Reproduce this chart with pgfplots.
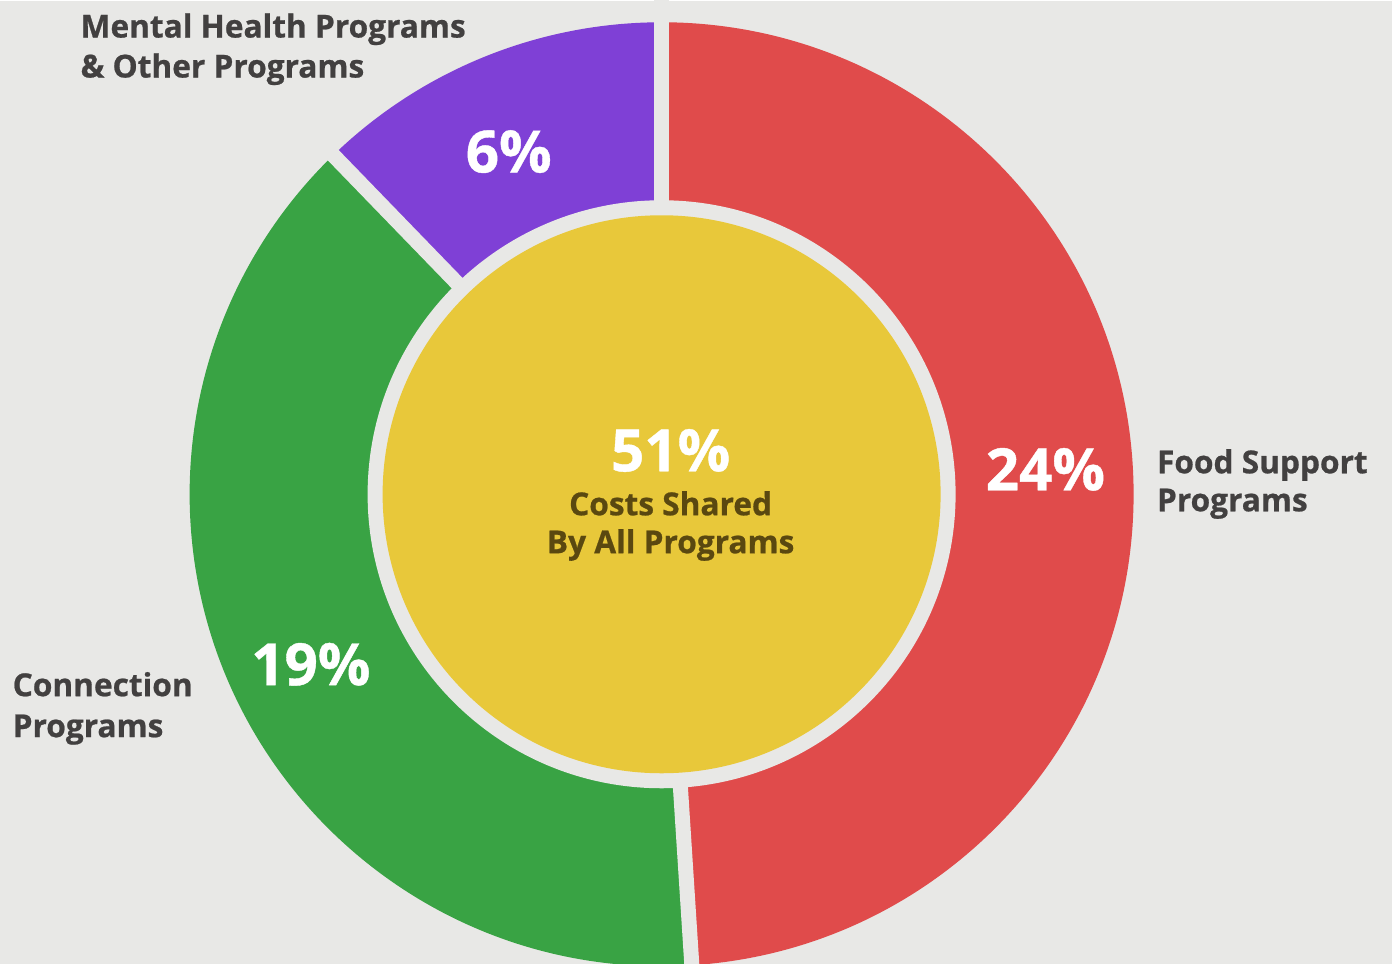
\documentclass[border=0pt]{standalone}
\usepackage{pgfplots}
\usepackage{pgfplotstable}
\usepackage{fontspec}
\pgfplotsset{compat=1.18}
\setmainfont{Open Sans}[BoldFeatures={FakeBold=0.7}]

\definecolor{paper}{HTML}{E8E8E6}
\definecolor{foodred}{HTML}{E04B4B}
\definecolor{conngreen}{HTML}{39A344}
\definecolor{mentpurple}{HTML}{7F40D6}
\definecolor{sharedyellow}{HTML}{E8C83A}
\definecolor{labelgray}{HTML}{424040}
\definecolor{olive}{HTML}{5A4810}

% share of total costs, in percent
\pgfplotstableread{
group      value
food       24
connection 19
mental     6
shared     51
}\costs

\pgfplotstablegetelem{0}{value}\of\costs \let\vFood\pgfplotsretval
\pgfplotstablegetelem{1}{value}\of\costs \let\vConn\pgfplotsretval
\pgfplotstablegetelem{2}{value}\of\costs \let\vMent\pgfplotsretval
\pgfplotstablegetelem{3}{value}\of\costs \let\vShared\pgfplotsretval

% outer ring holds the three program groups only
\pgfmathsetmacro{\ringsum}{\vFood+\vConn+\vMent}
\pgfmathsetmacro{\aFood}{90-360*\vFood/\ringsum}
\pgfmathsetmacro{\aConn}{\aFood-360*\vConn/\ringsum}
\pgfmathsetmacro{\aMent}{\aConn-360*\vMent/\ringsum}

\newcommand{\lbl}{\fontsize{9.0pt}{11pt}\selectfont\bfseries}
\newcommand{\pct}{\fontsize{16.6pt}{18pt}\selectfont\bfseries}

\begin{document}
\begin{tikzpicture}
\useasboundingbox (0,0) rectangle (13.93,9.64);
\clip (0,0) rectangle (13.93,9.64);
\begin{axis}[
    at={(0,0)}, anchor=south west,
    x=0.01cm, y=0.01cm,
    xmin=0, xmax=1393, ymin=0, ymax=964,
    hide axis,
    clip=true
]
\fill[paper] (axis cs:0,0) rectangle (axis cs:1393,964);

% ring wedges
\fill[foodred] (axis cs:662,470) -- ++(90:4.72cm)
    arc[start angle=90, end angle=\aFood, radius=4.72cm] -- cycle;
\fill[conngreen] (axis cs:662,470) -- ++(\aFood:4.72cm)
    arc[start angle=\aFood, end angle=\aConn, radius=4.72cm] -- cycle;
\fill[mentpurple] (axis cs:662,470) -- ++(\aConn:4.72cm)
    arc[start angle=\aConn, end angle=\aMent, radius=4.72cm] -- cycle;

% gaps between wedges
\draw[paper, line width=0.15cm] (axis cs:662,470) -- ++(90:5cm);
\draw[paper, line width=0.15cm] (axis cs:662,470) -- ++(\aFood:5cm);
\draw[paper, line width=0.15cm] (axis cs:662,470) -- ++(\aConn:5cm);

% hole and centre disc
\fill[paper] (axis cs:662,470) circle[radius=2.94cm];
\fill[sharedyellow] (axis cs:662,470) circle[radius=2.79cm];

% percentages
\node[anchor=base, text=white, inner sep=0pt] at (axis cs:1046,474) {\pct\vFood\%};
\node[anchor=base, text=white, inner sep=0pt] at (axis cs:311,279) {\pct\vConn\%};
\node[anchor=base, text=white, inner sep=0pt] at (axis cs:509,792) {\pct\vMent\%};
\node[anchor=base, text=white, inner sep=0pt] at (axis cs:671,493) {\pct\vShared\%};

% centre caption
\node[anchor=base, text=olive, inner sep=0pt] at (axis cs:671,449) {\lbl Costs Shared};
\node[anchor=base, text=olive, inner sep=0pt] at (axis cs:671,411) {\lbl By All Programs};

% group labels
\node[anchor=base west, text=labelgray, inner sep=0pt] at (axis cs:80,927) {\lbl Mental Health Programs};
\node[anchor=base west, text=labelgray, inner sep=0pt] at (axis cs:80,887) {\lbl \& Other Programs};
\node[anchor=base west, text=labelgray, inner sep=0pt] at (axis cs:1157,491) {\lbl Food Support};
\node[anchor=base west, text=labelgray, inner sep=0pt] at (axis cs:1157,453) {\lbl Programs};
\node[anchor=base west, text=labelgray, inner sep=0pt] at (axis cs:12,268) {\lbl Connection};
\node[anchor=base west, text=labelgray, inner sep=0pt] at (axis cs:12,227) {\lbl Programs};
\end{axis}
\end{tikzpicture}
\end{document}
